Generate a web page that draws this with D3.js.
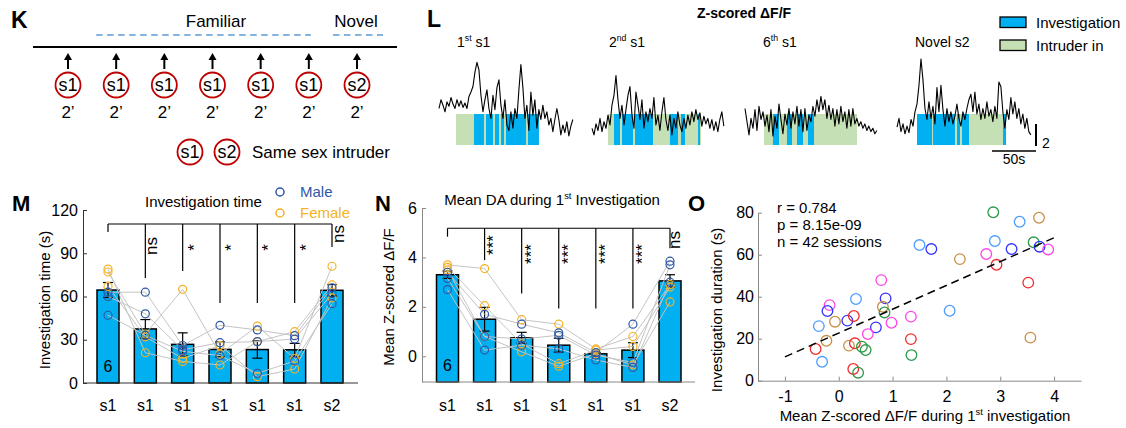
<!DOCTYPE html>
<html><head><meta charset="utf-8">
<script src="https://cdn.jsdelivr.net/npm/d3@7"></script>
<style>body{margin:0;background:#fff} svg{display:block;background:#fff} text{font-family:Arial,"Liberation Sans",sans-serif}</style>
</head><body><svg id="c" width="1126" height="428"></svg>
<script>
// ================= DATA =================
// Panel K
const kSessions = ["s1","s1","s1","s1","s1","s1","s2"];
const kDurations = ["2’","2’","2’","2’","2’","2’","2’"];
// Panel L: z-scored dF/F traces (one sample every ~2.27 s)
const traceDt = 2.27;
const trace1 = [1.5,2.3,1.8,1.2,2.1,1.7,2.5,1.9,1.5,2.3,1.7,2.2,1.6,2.0,1.5,2.6,3.0,3.5,4.8,5.7,5.0,2.7,1.2,2.3,3.2,1.5,0.6,2.7,1.4,3.4,4.1,1.8,0.6,2.3,0,-0.5,1.2,-0.3,1.5,0.6,3.2,5.5,3.4,0.6,1.8,-0.5,3.0,0.9,2.3,-0.3,1.4,0.5,1.8,0.6,1.2,0,0.6,-0.6,0.5,1.5,0.5,-0.9,0,-0.7,0.3,-1.0,-0.1,0.5];
const trace2 = [-0.3,-0.9,0.1,-0.5,0.6,-0.6,0.3,-0.3,0.9,0,1.8,2.7,4.5,2.3,0.6,1.8,0,1.4,2.7,3.5,0.9,-0.3,3.0,1.8,0.5,2.3,-0.3,1.2,0.3,1.5,0.6,2.5,0,0.9,-0.5,1.2,2.5,0.5,-0.5,0.9,-0.9,0.6,-0.3,1.2,0,-0.6,0.6,-0.3,0.9,0,1.2,0.3,1.4,0.5,1.1,-0.1,0.8,0.1,0.6,-0.3,0.5,-0.5,0.3,-0.6,0.5,1.2,-0.1];
const trace3 = [1.5,0.3,-0.9,0.6,-0.3,1.4,-0.5,1.7,0.5,1.2,-0.1,0.9,-0.6,1.4,-1.0,0.8,-0.3,1.9,0.5,-0.8,1.0,0,1.5,-0.3,1.2,0.1,1.7,-0.1,1.4,-0.6,1.5,-0.5,0.9,0.3,1.7,0.8,2.3,1.2,2.6,1.4,2.3,0.6,1.8,0.5,1.5,-0.1,1.4,0.1,1.7,0.3,1.2,-0.3,1.4,-0.1,1.5,0.1,0.6,-0.1,0.3,-0.3,0.1,-0.5,-0.1,-0.6,-0.3,-0.8,-0.5];
const trace4 = [-0.2,0.6,-0.6,0.1,-0.8,-0.1,-0.7,0.5,-0.1,1.2,1.9,3.6,6.0,4.1,1.5,0.5,2.1,0.6,1.7,0.1,3.4,1.2,3.6,1.4,-0.1,1.5,0.3,1.2,0.1,0.8,1.9,0.6,-0.1,1.2,0.5,1.5,2.3,2.8,1.2,3.0,1.0,1.9,0.5,1.5,0.6,2.1,0.8,1.4,0.3,1.7,0.6,3.9,3.5,1.2,-0.3,1.4,0.5,2.5,1.0,2.1,0.6,1.5,0.1,1.0,-0.3,0.6,-0.6,-0.9];
const traceLabels = [["1",{sup:"st"}," s1"],["2",{sup:"nd"}," s1"],["6",{sup:"th"}," s1"],["Novel s2"]];
// intruder-in periods and investigation bouts (seconds from trace start)
const intruderIn = [[19.3,113.6],[18.2,123.9],[21.6,127.3],[22.7,123.9]];
const bouts = [
  [[39.8,51.1],[53.4,61.4],[63.6,68.2],[70.5,73.9],[76.1,98.9],[101.1,113.6]],
  [[25,31.8],[34.1,46.6],[48.9,69.3],[88.6,97.7],[101.1,105.7],[120.5,122.7]],
  [[31.8,38.6],[47.7,53.4],[59.1,65.9],[71.6,78.4]],
  [[22.7,39.8],[40.9,65.9],[68.2,71.6],[73.9,81.8],[120.5,123.9]]
];
// Panels M & N
const sessionLabels = ["s1","s1","s1","s1","s1","s1","s2"];
const mouseSex = ["F","F","F","M","M","M"];
const invMean = [64.5, 37.5, 26.8, 23.3, 23.2, 23.0, 64.3];
const invSem  = [5.2, 6.5, 8.0, 5.2, 6.0, 4.5, 4.0];
const invMice = [
  [77, 34, 65, 20, 39.5, 17, 81],
  [79, 21, 15, 12.5, 28.7, 35.6, 68],
  [67, 32, 17, 26, 4.4, 9.7, 59],
  [63, 63, 26, 40, 36.8, 32.8, 66],
  [60, 48, 23, 28, 28.7, 30.5, 62],
  [47, 33, 22, 19, 6.7, 15.3, 55]
];
const invTicks = [0,30,60,90,120];
const invSig = ["", "ns", "*", "*", "*", "*", "ns"];
const invBracketTop = 110.3;
const invBracketDrop = [104.7, 72.8, 77.7, 55.5, 55.5, 55.5, 94.3];

const daMean = [3.3, 1.5, 0.75, 0.45, 0.1, 0.25, 3.05];
const daSem  = [0.15, 0.48, 0.22, 0.28, 0.05, 0.3, 0.25];
const daMice = [
  [3.7, 3.55, 1.48, 1.3, 0.3, 0.8, 2.9],
  [3.6, 2.05, 0.5, -0.3, 0.25, 0.4, 2.8],
  [3.5, 0.8, 0.18, -0.4, 0.1, -0.35, 2.2],
  [3.4, 1.7, 1.3, 0.95, 0.15, 1.3, 3.85],
  [3.15, 0.8, 0.7, 0.85, 0.05, -0.25, 3.7],
  [2.7, 0.25, 0.45, 0.3, -0.15, -0.45, 3.0]
];
const daTicks = [0,2,4,6];
const daSig = ["", "***", "***", "***", "***", "***", "ns"];
const daBracketTop = 5.18;
const daBracketDrop = [4.84, 3.89, 2.54, 1.93, 1.93, 1.93, 4.37];

// Panel O
const oX = [2.87,3.36,3.72,1.50,1.72,2.90,3.21,3.62,3.73,3.89,2.74,2.25,2.93,3.52,3.56,2.06,0.79,0.32,0.87,0.82,0.85,-0.17,-0.21,-0.07,-0.37,0.16,0.28,0.69,0.98,1.34,0.54,1.34,-0.23,-0.43,0.19,0.30,0.43,0.50,-0.31,1.35,0.27,0.36];
const oY = [80.2,75.7,77.6,64.6,62.7,66.5,62.7,65.9,63.8,62.5,60.3,57.9,55.2,46.7,20.5,33.3,47.9,38.9,39.2,35.2,32.5,36.0,33.2,28.1,26.0,28.6,30.8,25.4,27.6,30.5,22.2,19.8,19.0,15.1,16.7,17.8,16.2,14.6,9.0,12.2,5.6,3.8];
const oAnimal = ["green","lightblue","brown","lightblue","blue","lightblue","blue","green","blue","magenta","magenta","brown","red","red","brown","lightblue","magenta","lightblue","blue","brown","green","magenta","blue","brown","lightblue","blue","red","blue","magenta","magenta","magenta","red","brown","red","brown","red","green","green","lightblue","green","red","green"];
const oXTicks = [-1,0,1,2,3,4];
const oYTicks = [0,20,40,60,80];
const fitSlope = 11.34, fitIntercept = 22.7, fitRange = [-1, 4];
const oStats = ["r = 0.784", "p = 8.15e-09", "n = 42 sessions"];

// ================= DRAWING =================
const FONT = 'Arial, "Liberation Sans", sans-serif';
const BAR_BLUE = "#00b0f0", INTR_GREEN = "#c5e0b4";
const MALE = "#2e58a6", FEMALE = "#f5b324";
const animalColor = {green:"#2e9a48", lightblue:"#4c9dff", brown:"#c78f45", blue:"#3333ff", magenta:"#ff44e6", red:"#f02a2a"};
const fmt = d => (d < 0 ? "-" : "") + String(Math.abs(d));
const svg = d3.select("#c");

function txt(g, x, y, s, size, o = {}) {
  const t = g.append("text").attr("x", x).attr("y", y).attr("font-size", size).attr("fill", o.fill || "#000").text(s);
  if (o.anchor) t.attr("text-anchor", o.anchor);
  if (o.weight) t.attr("font-weight", o.weight);
  return t;
}
function rich(g, x, y, parts, size, anchor) {
  const t = g.append("text").attr("x", x).attr("y", y).attr("font-size", size).attr("text-anchor", anchor || "start");
  let up = false;
  parts.forEach(p => {
    const sup = typeof p !== "string";
    const ts = t.append("tspan").text(sup ? p.sup : p);
    if (sup) { ts.attr("font-size", size * 0.62).attr("dy", -size * 0.4); up = true; }
    else { ts.attr("font-size", size); if (up) { ts.attr("dy", size * 0.4); up = false; } }
  });
  return t;
}
function styleAxis(sel, color) {
  sel.attr("font-family", FONT);
  sel.select(".domain").attr("stroke", color).attr("stroke-width", 1);
  sel.selectAll(".tick line").attr("stroke", color);
  sel.selectAll(".tick text").attr("font-size", 16).attr("fill", "#000");
}

// ---------- Panel K ----------
{
  const g = svg.append("g");
  txt(g, 11, 28, "K", 23, {weight: "bold"});
  txt(g, 216, 27, "Familiar", 17, {anchor: "middle"});
  txt(g, 356, 27, "Novel", 17, {anchor: "middle"});
  const kx = d3.scalePoint().domain(d3.range(kSessions.length)).range([68, 357]);
  const dash = (a, b) => g.append("line").attr("x1", a).attr("x2", b).attr("y1", 35).attr("y2", 35)
    .attr("stroke", "#5b9bd5").attr("stroke-width", 1.6).attr("stroke-dasharray", "6.5,4.5");
  dash(kx(1) - 20, kx(5) + 2);
  dash(kx(6) - 24, kx(6) + 26);
  g.append("line").attr("x1", 33).attr("x2", 397).attr("y1", 47).attr("y2", 47).attr("stroke", "#000").attr("stroke-width", 1.8);
  const s = g.selectAll("g.sess").data(kSessions).join("g").attr("transform", (d, i) => `translate(${kx(i)},0)`);
  s.append("line").attr("y1", 69).attr("y2", 59).attr("stroke", "#000").attr("stroke-width", 2);
  s.append("path").attr("d", "M-4,60L4,60L0,53Z").attr("fill", "#000");
  s.append("circle").attr("cy", 85).attr("r", 12.5).attr("fill", "none").attr("stroke", "#c00000").attr("stroke-width", 1.8);
  s.append("text").attr("y", 91).attr("text-anchor", "middle").attr("font-size", 18).text(d => d);
  s.append("text").attr("y", 118).attr("text-anchor", "middle").attr("font-size", 17).text((d, i) => kDurations[i]);
  const leg = g.selectAll("g.leg").data(["s1", "s2"]).join("g").attr("transform", (d, i) => `translate(${190 + i * 37},152)`);
  leg.append("circle").attr("r", 12.5).attr("fill", "none").attr("stroke", "#c00000").attr("stroke-width", 1.8);
  leg.append("text").attr("y", 6).attr("text-anchor", "middle").attr("font-size", 18).text(d => d);
  txt(g, 252, 158, "Same sex intruder", 17);
}

// ---------- Panel L ----------
{
  const g = svg.append("g");
  txt(g, 427, 27, "L", 23, {weight: "bold"});
  txt(g, 697, 18, "Z-scored ΔF/F", 14, {weight: "bold"});
  const traces = [trace1, trace2, trace3, trace4];
  const startX = [439, 592, 745, 897];
  const labelX = [457, 609, 763, 915];
  const yL = d3.scaleLinear().domain([0, 1]).range([125, 114]);
  const tS = d3.scaleLinear().domain([0, 50]).range([0, 44]);
  const shadeTop = 1.0, shadeBottom = -1.82;
  traces.forEach((tr, k) => {
    const gt = g.append("g").attr("transform", `translate(${startX[k]},0)`);
    const iv = intruderIn[k];
    gt.append("rect").attr("x", tS(iv[0])).attr("width", tS(iv[1]) - tS(iv[0]))
      .attr("y", yL(shadeTop)).attr("height", yL(shadeBottom) - yL(shadeTop)).attr("fill", INTR_GREEN);
    gt.selectAll("rect.bout").data(bouts[k]).join("rect").attr("class", "bout")
      .attr("x", d => tS(d[0])).attr("width", d => tS(d[1]) - tS(d[0]))
      .attr("y", yL(shadeTop)).attr("height", yL(shadeBottom) - yL(shadeTop)).attr("fill", BAR_BLUE);
    gt.append("path").datum(tr).attr("fill", "none").attr("stroke", "#000").attr("stroke-width", 1.1)
      .attr("stroke-linejoin", "round")
      .attr("d", d3.line().x((d, i) => tS(i * traceDt)).y(d => yL(d)));
    rich(g, labelX[k], 47, traceLabels[k], 14);
  });
  // scale bars
  g.append("line").attr("x1", 1036).attr("x2", 1036).attr("y1", yL(0.1)).attr("y2", yL(-1.9)).attr("stroke", "#000").attr("stroke-width", 2);
  txt(g, 1042, 148, "2", 14);
  g.append("line").attr("x1", 1036 - tS(50)).attr("x2", 1036).attr("y1", 151).attr("y2", 151).attr("stroke", "#000").attr("stroke-width", 1.5);
  txt(g, 1014, 164, "50s", 14, {anchor: "middle"});
  // legend
  [["Investigation", BAR_BLUE, 17], ["Intruder in", INTR_GREEN, 40]].forEach(([lab, col, y]) => {
    g.append("rect").attr("x", 1000).attr("y", y).attr("width", 26).attr("height", 10.5).attr("fill", col).attr("stroke", "#000").attr("stroke-width", 1.3);
    txt(g, 1036, y + 10.5, lab, 15);
  });
}

// ---------- Panels M & N ----------
function barPanel(o) {
  const g = svg.append("g");
  const x = d3.scalePoint().domain(d3.range(o.means.length)).range([o.cx0, o.cx1]);
  const y = d3.scaleLinear().domain(o.yDomain).range([o.bottom, o.top]);
  const base = o.yDomain[0];
  g.selectAll("rect.bar").data(o.means).join("rect").attr("class", "bar")
    .attr("x", (d, i) => x(i) - 11).attr("width", 22)
    .attr("y", d => y(d)).attr("height", d => y(base) - y(d))
    .attr("fill", BAR_BLUE).attr("stroke", "#000").attr("stroke-width", 1.5);
  const eb = g.selectAll("g.eb").data(o.means).join("g").attr("class", "eb");
  eb.append("line").attr("x1", (d, i) => x(i)).attr("x2", (d, i) => x(i))
    .attr("y1", (d, i) => y(d - o.sem[i])).attr("y2", (d, i) => y(d + o.sem[i])).attr("stroke", "#000").attr("stroke-width", 1.2);
  [-1, 1].forEach(sg => eb.append("line").attr("x1", (d, i) => x(i) - 5).attr("x2", (d, i) => x(i) + 5)
    .attr("y1", (d, i) => y(d + sg * o.sem[i])).attr("y2", (d, i) => y(d + sg * o.sem[i])).attr("stroke", "#000").attr("stroke-width", 1.2));
  // individual mice
  g.selectAll("path.mouse").data(o.mice).join("path").attr("class", "mouse")
    .attr("fill", "none").attr("stroke", "#c4c4c4").attr("stroke-width", 1)
    .attr("d", d3.line().x((d, i) => x(i)).y(d => y(d)));
  o.mice.forEach((m, k) => {
    g.selectAll(null).data(m).join("circle").attr("cx", (d, i) => x(i)).attr("cy", d => y(d)).attr("r", 4)
      .attr("fill", "none").attr("stroke", mouseSex[k] === "M" ? MALE : FEMALE).attr("stroke-width", 1.2);
  });
  // axes
  const ya = g.append("g").attr("transform", `translate(${o.left},0)`)
    .call(d3.axisLeft(y).tickValues(o.ticks).tickFormat(fmt).tickSizeInner(-4).tickSizeOuter(0).tickPadding(5));
  styleAxis(ya, o.axisColor);
  g.append("line").attr("x1", o.left).attr("x2", o.right).attr("y1", o.bottom).attr("y2", o.bottom).attr("stroke", o.axisColor);
  g.selectAll("text.xl").data(sessionLabels).join("text").attr("class", "xl")
    .attr("x", (d, i) => x(i)).attr("y", 411).attr("text-anchor", "middle").attr("font-size", 16).text(d => d);
  txt(g, x(0), y(base) - 11, "6", 16, {anchor: "middle"});
  // y label
  g.append("text").attr("transform", `translate(${o.ylabX},${o.ylabY}) rotate(-90)`).attr("text-anchor", "middle")
    .attr("font-size", 15).text(o.ylabel);
  // significance bracket
  g.append("line").attr("x1", x(0)).attr("x2", x(6)).attr("y1", y(o.bTop)).attr("y2", y(o.bTop)).attr("stroke", "#000").attr("stroke-width", 1.2);
  g.selectAll("line.drop").data(o.bDrop).join("line").attr("class", "drop")
    .attr("x1", (d, i) => x(i)).attr("x2", (d, i) => x(i)).attr("y1", y(o.bTop)).attr("y2", d => y(d))
    .attr("stroke", "#000").attr("stroke-width", 1.2);
  o.sig.forEach((s, i) => {
    if (!s) return;
    const star = s[0] === "*";
    const bx = star ? x(i) + o.starDx + 9.9 : x(i) + o.nsDx;
    const cy = o.sigY[i];
    g.append("text").attr("transform", `translate(${bx},${cy}) rotate(-90)`).attr("text-anchor", "middle")
      .attr("font-size", 17).text(s);
  });
  return {g, x, y};
}

const M = barPanel({means: invMean, sem: invSem, mice: invMice, yDomain: [0, 120], ticks: invTicks,
  left: 83, right: 358, top: 210, bottom: 383, cx0: 108, cx1: 332, axisColor: "#333",
  ylabel: "Investigation time (s)", ylabX: 50, ylabY: 300,
  bTop: invBracketTop, bDrop: invBracketDrop, sig: invSig, starDx: 7, nsDx: 12,
  sigY: [0, 246, 247.5, 247.5, 247.5, 247.5, 234]});
txt(M.g, 12, 211, "M", 22, {weight: "bold"});
txt(M.g, 145, 207, "Investigation time", 15);
[["Male", MALE, 192], ["Female", FEMALE, 213]].forEach(([lab, col, yy]) => {
  M.g.append("circle").attr("cx", 280).attr("cy", yy).attr("r", 4).attr("fill", "none").attr("stroke", col).attr("stroke-width", 1.5);
  txt(M.g, 300, yy + 5, lab, 15, {fill: col});
});

const N = barPanel({means: daMean, sem: daSem, mice: daMice, yDomain: [-1.04, 6], ticks: daTicks,
  left: 422, right: 695, top: 208, bottom: 382, cx0: 447.5, cx1: 670, axisColor: "#888",
  ylabel: "Mean Z-scored ΔF/F", ylabX: 394, ylabY: 297,
  bTop: daBracketTop, bDrop: daBracketDrop, sig: daSig, starDx: 5, nsDx: 10,
  sigY: [0, 245, 254, 254, 254, 254, 240]});
txt(N.g, 375, 211, "N", 22, {weight: "bold"});
rich(N.g, 552, 205, ["Mean DA during 1", {sup: "st"}, " Investigation"], 15, "middle");

// ---------- Panel O ----------
{
  const g = svg.append("g");
  txt(g, 688, 211, "O", 22, {weight: "bold"});
  const xO = d3.scaleLinear().domain([-1.5, 4.5]).range([758, 1081]);
  const yO = d3.scaleLinear().domain([0, 80]).range([380.7, 212.7]);
  const ya = g.append("g").attr("transform", "translate(758,0)")
    .call(d3.axisLeft(yO).tickValues(oYTicks).tickFormat(fmt).tickSizeInner(-4).tickSizeOuter(0).tickPadding(4));
  styleAxis(ya, "#888");
  const xa = g.append("g").attr("transform", "translate(0,380.7)")
    .call(d3.axisBottom(xO).tickValues(oXTicks).tickFormat(fmt).tickSizeInner(-4).tickSizeOuter(0).tickPadding(9.5));
  styleAxis(xa, "#888");
  g.selectAll("circle.pt").data(oX).join("circle").attr("class", "pt")
    .attr("cx", d => xO(d)).attr("cy", (d, i) => yO(oY[i])).attr("r", 5.3)
    .attr("fill", "none").attr("stroke", (d, i) => animalColor[oAnimal[i]]).attr("stroke-width", 1.3);
  g.append("path").datum(fitRange).attr("fill", "none").attr("stroke", "#000").attr("stroke-width", 1.5)
    .attr("stroke-dasharray", "8,5")
    .attr("d", d3.line().x(d => xO(d)).y(d => yO(fitIntercept + fitSlope * d)));
  oStats.forEach((s, i) => txt(g, 777, 213 + i * 17, s, 15));
  g.append("text").attr("transform", "translate(722,310) rotate(-90)").attr("text-anchor", "middle")
    .attr("font-size", 15).text("Investigation duration (s)");
  rich(g, 925, 421, ["Mean Z-scored ΔF/F during 1", {sup: "st"}, " investigation"], 15, "middle");
}
</script></body></html>
